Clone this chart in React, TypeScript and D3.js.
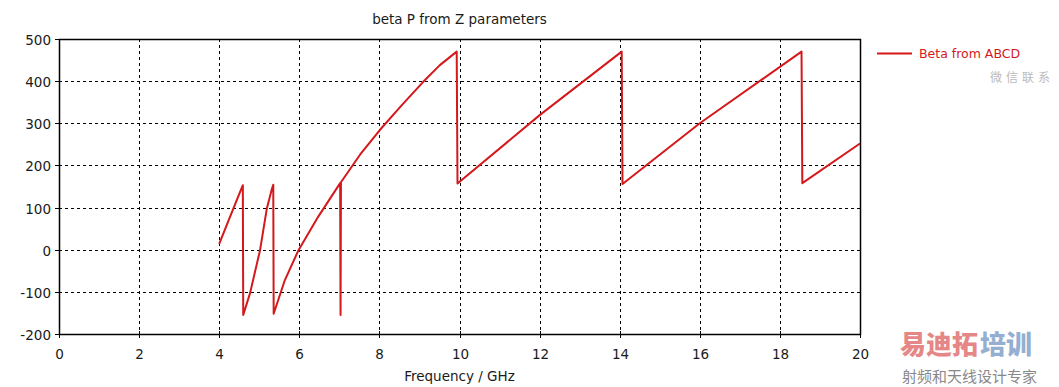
import * as d3 from "d3";
import { useEffect, useRef } from "react";

// frequency (GHz) and beta values
const freq = [
  4.0, 4.27, 4.59, 4.6,
  4.77, 5.02, 5.19, 5.31, 5.35, 5.36,
  5.64, 5.98, 6.47, 7.02, 7.03, 7.04,
  7.52, 8.01, 8.56, 9.10, 9.51, 9.93, 9.95,
  12.01, 14.05, 14.07,
  16.0, 18.54, 18.56,
  20.0,
];
const beta = [
  14, 78, 153, -155,
  -103, -1, 98, 142, 154, -152,
  -72, -1, 78, 158, -155, 160,
  226, 284, 343, 399, 438, 470, 157,
  320, 470, 156,
  300, 470, 158,
  252,
];

const xTicks = [0, 2, 4, 6, 8, 10, 12, 14, 16, 18, 20];
const yTicks = [-200, -100, 0, 100, 200, 300, 400, 500];

const title = "beta P from Z parameters";
const xLabel = "Frequency / GHz";
const seriesName = "Beta from ABCD";

const W = 1059;
const H = 387;
const RED = "#d4181b";
const FONT = "DejaVu Sans, Verdana, sans-serif";
const FS = 13.5;

export default function App() {
  const ref = useRef<SVGSVGElement>(null);

  useEffect(() => {
    if (!ref.current) return;
    const svg = d3.select(ref.current);
    svg.selectAll("*").remove();

    const m = { left: 59, right: 860, top: 39, bottom: 334 };
    const x = d3.scaleLinear().domain([0, 20]).range([m.left, m.right]);
    const y = d3.scaleLinear().domain([-200, 500]).range([m.bottom, m.top]);

    svg.append("rect").attr("width", W).attr("height", H).attr("fill", "#fff");

    // grid
    const grid = svg.append("g").attr("stroke", "#000").attr("stroke-width", 1).attr("stroke-dasharray", "3,3");
    xTicks.slice(1, -1).forEach((t) => {
      grid.append("line")
        .attr("x1", Math.round(x(t)) + 0.5).attr("x2", Math.round(x(t)) + 0.5)
        .attr("y1", m.top).attr("y2", m.bottom);
    });
    yTicks.slice(1, -1).forEach((t) => {
      grid.append("line")
        .attr("x1", m.left).attr("x2", m.right)
        .attr("y1", Math.round(y(t)) + 0.5).attr("y2", Math.round(y(t)) + 0.5);
    });

    // series
    const line = d3.line<number>()
      .x((_, i) => x(freq[i]))
      .y((d) => y(d));
    svg.append("path")
      .datum(beta)
      .attr("fill", "none")
      .attr("stroke", RED)
      .attr("stroke-width", 2)
      .attr("stroke-linejoin", "round")
      .attr("d", line);

    // frame
    svg.append("rect")
      .attr("x", m.left + 0.5).attr("y", m.top + 0.5)
      .attr("width", m.right - m.left).attr("height", m.bottom - m.top)
      .attr("fill", "none").attr("stroke", "#000").attr("stroke-width", 1.5);

    const tickG = svg.append("g").attr("font-family", FONT).attr("font-size", FS).attr("fill", "#1a1a1a");

    xTicks.forEach((t) => {
      const px = Math.round(x(t)) + 0.5;
      tickG.append("line").attr("x1", px).attr("x2", px)
        .attr("y1", m.bottom - 3).attr("y2", m.bottom + 4).attr("stroke", "#000");
      tickG.append("text").attr("x", px).attr("y", m.bottom + 25)
        .attr("text-anchor", "middle").text(t);
    });
    yTicks.forEach((t) => {
      const py = Math.round(y(t)) + 0.5;
      tickG.append("line").attr("x1", m.left - 4).attr("x2", m.left + 3)
        .attr("y1", py).attr("y2", py).attr("stroke", "#000");
      tickG.append("text").attr("x", m.left - 8).attr("y", py + 5)
        .attr("text-anchor", "end").text(t);
    });

    svg.append("text")
      .attr("x", (m.left + m.right) / 2).attr("y", 24)
      .attr("text-anchor", "middle").attr("font-family", FONT).attr("font-size", FS)
      .attr("fill", "#1a1a1a").text(title);

    svg.append("text")
      .attr("x", (m.left + m.right) / 2).attr("y", 381)
      .attr("text-anchor", "middle").attr("font-family", FONT).attr("font-size", FS)
      .attr("fill", "#1a1a1a").text(xLabel);

    // legend
    svg.append("line").attr("x1", 877).attr("x2", 912).attr("y1", 53.5).attr("y2", 53.5)
      .attr("stroke", RED).attr("stroke-width", 2);
    svg.append("text").attr("x", 919).attr("y", 58)
      .attr("font-family", FONT).attr("font-size", 12.5).attr("fill", RED).text(seriesName);

    // watermark texts
    svg.append("text").attr("x", 990).attr("y", 82)
      .attr("font-family", "Noto Sans CJK SC").attr("font-size", 12).attr("fill", "#bbb")
      .attr("letter-spacing", 4).text("微信联系");
    svg.append("text").attr("x", 900).attr("y", 354)
      .attr("font-family", "Noto Sans CJK SC").attr("font-weight", 900).attr("font-size", 26)
      .attr("fill", "#e06a6a").attr("opacity", 0.8).text("易迪拓");
    svg.append("text").attr("x", 980).attr("y", 354)
      .attr("font-family", "Noto Sans CJK SC").attr("font-weight", 900).attr("font-size", 26)
      .attr("fill", "#7a9cc6").attr("opacity", 0.8).text("培训");
    svg.append("text").attr("x", 902).attr("y", 382)
      .attr("font-family", "Noto Sans CJK SC").attr("font-size", 15)
      .attr("fill", "#888").text("射频和天线设计专家");
  }, []);

  return (
    <svg
      ref={ref}
      width={W}
      height={H}
      style={{ position: "absolute", left: 0, top: 0, display: "block" }}
    />
  );
}
